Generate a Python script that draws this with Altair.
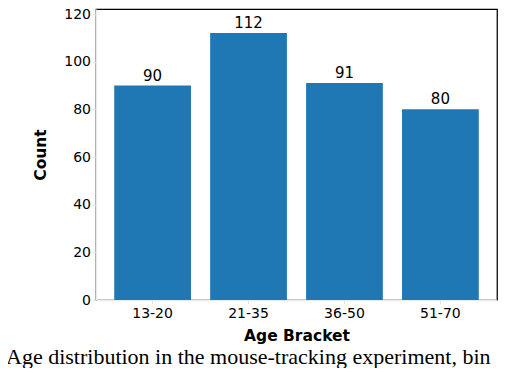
import altair as alt
import pandas as pd

brackets = ["13-20", "21-35", "36-50", "51-70"]
counts = [90, 112, 91, 80]
y_ticks = [0, 20, 40, 60, 80, 100, 120]
caption = "Age distribution in the mouse-tracking experiment, bin"

df = pd.DataFrame({"bracket": brackets, "count": counts})

base = alt.Chart(df).encode(
    x=alt.X(
        "bracket:N",
        sort=brackets,
        scale=alt.Scale(paddingInner=0.2, paddingOuter=0.19),
        axis=alt.Axis(
            title="Age Bracket",
            labelAngle=0,
            labelFontSize=14,
            labelFont="DejaVu Sans",
            labelColor="black",
            labelPadding=2.5,
            tickSize=3.5,
            tickColor="#e0e0e0",
            domainColor="#ebebeb",
            domainWidth=1.5,
            titleFont="DejaVu Sans",
            titleFontSize=15.5,
            titleFontWeight="bold",
            titleColor="black",
            titlePadding=8,
        ),
    ),
    y=alt.Y(
        "count:Q",
        scale=alt.Scale(domain=[0, 122.1], nice=False, zero=True),
        axis=alt.Axis(
            title="Count",
            values=y_ticks,
            grid=False,
            labelFontSize=14,
            labelFont="DejaVu Sans",
            labelColor="black",
            labelPadding=2,
            tickSize=3.5,
            tickColor="#e0e0e0",
            domainColor="#ebebeb",
            domainWidth=1.5,
            titleFont="DejaVu Sans",
            titleFontSize=15.5,
            titleFontWeight="bold",
            titleColor="black",
            titlePadding=15,
        ),
    ),
)

bars = base.mark_bar(color="#1f77b4")
labels = base.mark_text(
    baseline="alphabetic", dy=-5, fontSize=15, font="DejaVu Sans", color="black"
).encode(text="count:Q")

chart = (
    (bars + labels)
    .properties(
        width=401,
        height=291,
        autosize=alt.AutoSizeParams(type="none"),
        padding={"left": 88, "top": 1, "right": 7, "bottom": 68},
        title=alt.TitleParams(
            text=caption,
            orient="bottom",
            anchor="start",
            frame="group",
            baseline="alphabetic",
            dx=-90,
            offset=20,
            font="Liberation Serif",
            fontSize=22,
            fontWeight="normal",
            color="black",
        ),
    )
    .configure_view(stroke="black", strokeWidth=1.25)
)

chart.save("out.html", embed_options={"renderer": "svg", "actions": False})
